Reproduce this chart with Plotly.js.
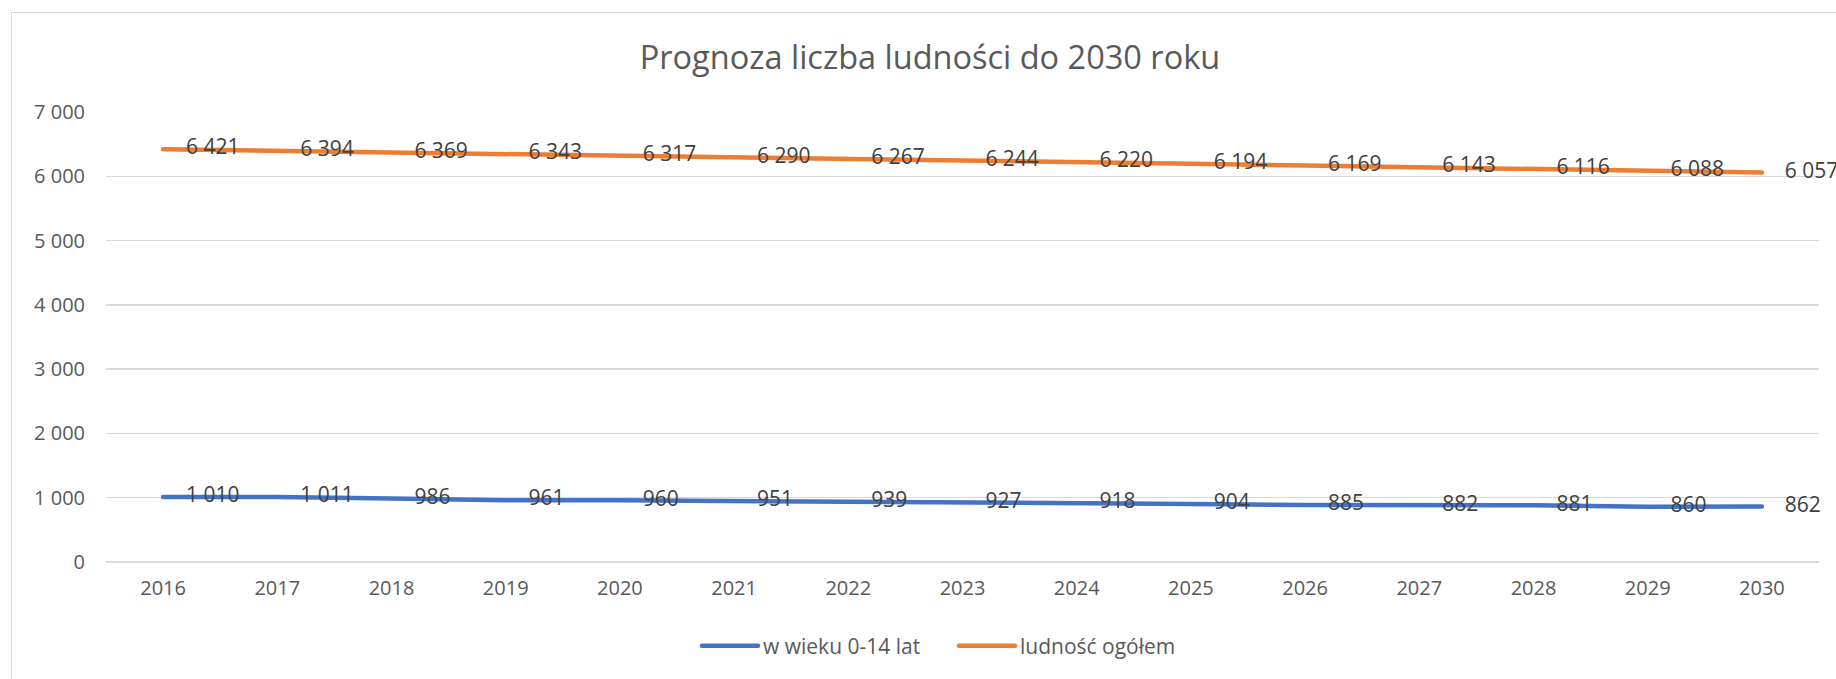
<!DOCTYPE html>
<html>
<head>
<meta charset="utf-8">
<script src="https://cdn.plot.ly/plotly-3.0.1.min.js"></script>
<style>
  html, body { margin: 0; padding: 0; background: #ffffff; overflow: hidden; }
  #frame { position: absolute; left: 11px; top: 12px; width: 1900px; height: 800px; border: 1px solid #d9d9d9; box-sizing: border-box; }
  #chart { position: absolute; left: 0; top: 0; width: 1836px; height: 679px; }
  #chart .scatterlayer path.js-line, #chart .legend path.js-line { stroke-linecap: round; }
</style>
</head>
<body>
<div id="frame"></div>
<div id="chart"></div>
<script>
const years = ['2016','2017','2018','2019','2020','2021','2022','2023','2024','2025','2026','2027','2028','2029','2030'];
const children = [1010, 1011, 986, 961, 960, 951, 939, 927, 918, 904, 885, 882, 881, 860, 862];
const total = [6421, 6394, 6369, 6343, 6317, 6290, 6267, 6244, 6220, 6194, 6169, 6143, 6116, 6088, 6057];
const seriesNames = ['w wieku 0-14 lat', 'ludność ogółem'];
const yTicks = [0, 1000, 2000, 3000, 4000, 5000, 6000, 7000];
const chartTitle = 'Prognoza liczba ludności do 2030 roku';

const FONT = '"Open Sans", sans-serif';
const labelFont = { family: FONT, size: 21, color: '#404040' };

function series(name, values, color) {
  return {
    type: 'scatter',
    mode: 'lines+markers+text',
    name: name,
    x: years,
    y: values,
    line: { color: color, width: 4.5 },
    marker: { size: 35, color: 'rgba(0,0,0,0)', line: { width: 0 } },
    texttemplate: '%{y:,}',
    textposition: 'middle right',
    textfont: labelFont,
    cliponaxis: false,
    hoverinfo: 'x+y+name'
  };
}

const data = [
  series(seriesNames[0], children, '#4472C4'),
  series(seriesNames[1], total, '#ED7D31')
];

const layout = {
  width: 1836,
  height: 679,
  margin: { l: 106, r: 17, t: 112, b: 117 },
  paper_bgcolor: 'rgba(0,0,0,0)',
  plot_bgcolor: 'rgba(0,0,0,0)',
  separators: ', ',
  font: { family: FONT, color: '#595959' },
  title: {
    text: chartTitle,
    font: { family: FONT, size: 32.5, color: '#595959' },
    xref: 'paper', x: 0.481, xanchor: 'center',
    yref: 'container', y: 1 - 58 / 679, yanchor: 'middle'
  },
  xaxis: {
    type: 'category',
    range: [-0.5, 14.5],
    showgrid: false,
    zeroline: false,
    showline: false,
    ticks: '',
    tickfont: { family: FONT, size: 20, color: '#595959' },
    ticklabelstandoff: 12,
    fixedrange: true
  },
  yaxis: {
    range: [0, 7000],
    tickvals: yTicks,
    tickformat: ',d',
    separatethousands: true,
    showgrid: true,
    gridcolor: '#d9d9d9',
    gridwidth: 1.3,
    zeroline: true,
    zerolinecolor: '#d9d9d9',
    zerolinewidth: 1.3,
    showline: false,
    ticks: '',
    tickfont: { family: FONT, size: 20, color: '#595959' },
    ticklabelstandoff: 20,
    fixedrange: true
  },
  showlegend: true,
  legend: {
    orientation: 'h',
    x: (700 - 106 - 3) / 1713, xanchor: 'left',
    y: (562 - 646) / 450, yanchor: 'middle',
    font: { family: FONT, size: 21, color: '#595959' },
    itemwidth: 56,
    entrywidth: 186,
    entrywidthmode: 'pixels',
    bgcolor: 'rgba(0,0,0,0)'
  }
};

Plotly.newPlot('chart', data, layout, { displayModeBar: false, staticPlot: true });
</script>
</body>
</html>
